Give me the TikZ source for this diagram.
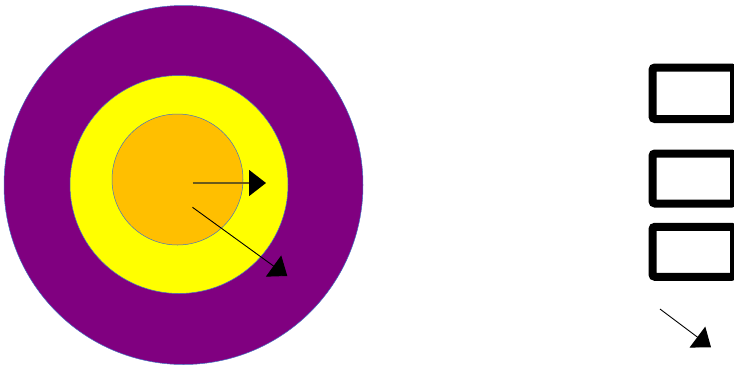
\documentclass[tikz,border=0pt]{standalone}
\usetikzlibrary{arrows.meta}
\definecolor{ringpurple}{HTML}{800080}
\definecolor{ringyellow}{HTML}{FFFF00}
\definecolor{coreorange}{HTML}{FFBF00}
\definecolor{rimblue}{HTML}{4472C4}
\definecolor{darkline}{HTML}{6B5A1A}
\tikzset{
  disc/.style={circle, draw=rimblue, line width=0.5pt, inner sep=0pt, outer sep=0pt},
  framebox/.style={rectangle, draw=black, line width=8pt, rounded corners=2.5pt, fill=white, inner sep=0pt, outer sep=0pt, minimum width=81.5pt},
  bigtip/.style={-{Triangle[length=17pt,width=26pt,black]}},
}
\begin{document}
\begin{tikzpicture}[x=1pt,y=-1pt]
\useasboundingbox (0,0) rectangle (734,365);
\begin{scope}
\clip (0,0) rectangle (734,365);
\node[disc, fill=ringpurple, minimum size=359pt] (outer) at (183.5,185) {};
\node[disc, fill=ringyellow, minimum size=218pt] (middle) at (179,184.5) {};
\node[disc, fill=coreorange, minimum size=131pt] (core) at (177.5,179.5) {};

\node[framebox, minimum height=51.5pt] (box1) at (693.25,93.25) {};
\node[framebox, minimum height=50pt] (box2) at (693.25,178.5) {};
\node[framebox, minimum height=50pt] (box3) at (693.25,251.8) {};

\coordinate (a1s) at (192.5,183);
\coordinate (a1e) at (266,183);
\coordinate (a2s) at (192.5,207.3);
\coordinate (a2e) at (287.3,276);
\coordinate (a3s) at (660,309);
\coordinate (a3e) at (711,347.3);

\draw[bigtip, draw=darkline, line width=1.6pt] (a1s) -- (a1e);
\draw[bigtip, draw=black, line width=0.9pt] (a2s) -- (a2e);
\draw[bigtip, draw=black, line width=0.9pt] (a3s) -- (a3e);
\end{scope}
\end{tikzpicture}
\end{document}
